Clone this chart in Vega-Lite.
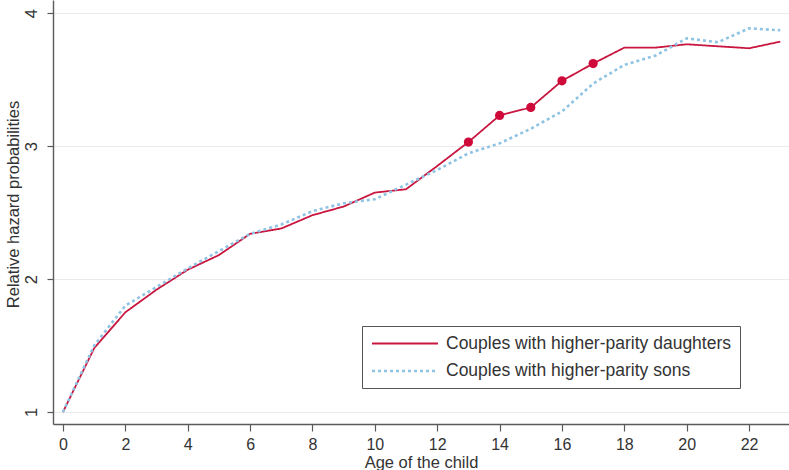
{
  "$schema": "https://vega.github.io/schema/vega-lite/v6.json",
  "autosize": {"type": "none"},
  "width": 736,
  "height": 424,
  "padding": {"left": 53, "top": 0, "right": 0, "bottom": 46},
  "background": "white",
  "config": {
    "view": {"stroke": null},
    "font": "Liberation Sans",
    "axis": {
      "labelFont": "Liberation Sans",
      "titleFont": "Liberation Sans",
      "labelColor": "#333333",
      "titleColor": "#333333",
      "labelFontSize": 16.5,
      "titleFontSize": 16.5,
      "titleFontWeight": "normal",
      "domainColor": "#5a5a5a",
      "domainWidth": 1.4,
      "tickColor": "#5a5a5a",
      "tickWidth": 1.2,
      "tickSize": 6
    }
  },
  "data": {
    "values": [
      {"age": 0, "group": "Couples with higher-parity daughters", "hr": 1.0, "sig": false},
      {"age": 1, "group": "Couples with higher-parity daughters", "hr": 1.48, "sig": false},
      {"age": 2, "group": "Couples with higher-parity daughters", "hr": 1.75, "sig": false},
      {"age": 3, "group": "Couples with higher-parity daughters", "hr": 1.92, "sig": false},
      {"age": 4, "group": "Couples with higher-parity daughters", "hr": 2.07, "sig": false},
      {"age": 5, "group": "Couples with higher-parity daughters", "hr": 2.18, "sig": false},
      {"age": 6, "group": "Couples with higher-parity daughters", "hr": 2.34, "sig": false},
      {"age": 7, "group": "Couples with higher-parity daughters", "hr": 2.38, "sig": false},
      {"age": 8, "group": "Couples with higher-parity daughters", "hr": 2.48, "sig": false},
      {"age": 9, "group": "Couples with higher-parity daughters", "hr": 2.545, "sig": false},
      {"age": 10, "group": "Couples with higher-parity daughters", "hr": 2.65, "sig": false},
      {"age": 11, "group": "Couples with higher-parity daughters", "hr": 2.675, "sig": false},
      {"age": 12, "group": "Couples with higher-parity daughters", "hr": 2.85, "sig": false},
      {"age": 13, "group": "Couples with higher-parity daughters", "hr": 3.03, "sig": true},
      {"age": 14, "group": "Couples with higher-parity daughters", "hr": 3.23, "sig": true},
      {"age": 15, "group": "Couples with higher-parity daughters", "hr": 3.29, "sig": true},
      {"age": 16, "group": "Couples with higher-parity daughters", "hr": 3.49, "sig": true},
      {"age": 17, "group": "Couples with higher-parity daughters", "hr": 3.62, "sig": true},
      {"age": 18, "group": "Couples with higher-parity daughters", "hr": 3.74, "sig": false},
      {"age": 19, "group": "Couples with higher-parity daughters", "hr": 3.74, "sig": false},
      {"age": 20, "group": "Couples with higher-parity daughters", "hr": 3.765, "sig": false},
      {"age": 21, "group": "Couples with higher-parity daughters", "hr": 3.75, "sig": false},
      {"age": 22, "group": "Couples with higher-parity daughters", "hr": 3.735, "sig": false},
      {"age": 23, "group": "Couples with higher-parity daughters", "hr": 3.785, "sig": false},
      {"age": 0, "group": "Couples with higher-parity sons", "hr": 1.0, "sig": false},
      {"age": 1, "group": "Couples with higher-parity sons", "hr": 1.5, "sig": false},
      {"age": 2, "group": "Couples with higher-parity sons", "hr": 1.8, "sig": false},
      {"age": 3, "group": "Couples with higher-parity sons", "hr": 1.94, "sig": false},
      {"age": 4, "group": "Couples with higher-parity sons", "hr": 2.08, "sig": false},
      {"age": 5, "group": "Couples with higher-parity sons", "hr": 2.21, "sig": false},
      {"age": 6, "group": "Couples with higher-parity sons", "hr": 2.34, "sig": false},
      {"age": 7, "group": "Couples with higher-parity sons", "hr": 2.41, "sig": false},
      {"age": 8, "group": "Couples with higher-parity sons", "hr": 2.51, "sig": false},
      {"age": 9, "group": "Couples with higher-parity sons", "hr": 2.57, "sig": false},
      {"age": 10, "group": "Couples with higher-parity sons", "hr": 2.6, "sig": false},
      {"age": 11, "group": "Couples with higher-parity sons", "hr": 2.71, "sig": false},
      {"age": 12, "group": "Couples with higher-parity sons", "hr": 2.82, "sig": false},
      {"age": 13, "group": "Couples with higher-parity sons", "hr": 2.945, "sig": false},
      {"age": 14, "group": "Couples with higher-parity sons", "hr": 3.02, "sig": false},
      {"age": 15, "group": "Couples with higher-parity sons", "hr": 3.13, "sig": false},
      {"age": 16, "group": "Couples with higher-parity sons", "hr": 3.26, "sig": false},
      {"age": 17, "group": "Couples with higher-parity sons", "hr": 3.47, "sig": false},
      {"age": 18, "group": "Couples with higher-parity sons", "hr": 3.61, "sig": false},
      {"age": 19, "group": "Couples with higher-parity sons", "hr": 3.68, "sig": false},
      {"age": 20, "group": "Couples with higher-parity sons", "hr": 3.81, "sig": false},
      {"age": 21, "group": "Couples with higher-parity sons", "hr": 3.78, "sig": false},
      {"age": 22, "group": "Couples with higher-parity sons", "hr": 3.885, "sig": false},
      {"age": 23, "group": "Couples with higher-parity sons", "hr": 3.87, "sig": false}
    ]
  },
  "encoding": {
    "x": {
      "field": "age",
      "type": "quantitative",
      "scale": {"domain": [-0.32, 23.28], "nice": false, "zero": false},
      "axis": {
        "title": "Age of the child",
        "titleFontSize": 16.5,
        "labelFontSize": 16,
        "values": [0, 2, 4, 6, 8, 10, 12, 14, 16, 18, 20, 22],
        "grid": false,
        "tickSize": 7,
        "labelPadding": 5,
        "titleBaseline": "alphabetic",
        "titleY": 43
      }
    },
    "y": {
      "field": "hr",
      "type": "quantitative",
      "scale": {"domain": [0.91, 4.098], "nice": false, "zero": false},
      "axis": {
        "title": "Relative hazard probabilities",
        "values": [1, 2, 3, 4],
        "grid": true,
        "gridColor": "#ebebeb",
        "gridWidth": 1,
        "labelAngle": -90,
        "labelAlign": "center",
        "labelBaseline": "bottom",
        "labelPadding": 8,
        "titleX": -32,
        "titleY": 204
      }
    }
  },
  "layer": [
    {
      "mark": {"type": "line", "interpolate": "linear"},
      "encoding": {
        "color": {
          "field": "group",
          "type": "nominal",
          "scale": {
            "domain": ["Couples with higher-parity daughters", "Couples with higher-parity sons"],
            "range": ["#c8163f", "#8fc3e3"]
          },
          "legend": {
            "title": null,
            "orient": "none",
            "legendX": 309,
            "legendY": 326,
            "direction": "vertical",
            "strokeColor": "#555555",
            "fillColor": "white",
            "padding": 8,
            "rowPadding": 9,
            "symbolType": "M-4,0H4",
            "symbolSize": 272,
            "symbolOffset": 25,
            "symbolStrokeWidth": 2,
            "labelFont": "Liberation Sans",
            "labelFontSize": 17.5,
            "labelColor": "#333333",
            "labelOffset": 31,
            "labelLimit": 400
          }
        },
        "strokeDash": {
          "field": "group",
          "type": "nominal",
          "scale": {
            "domain": ["Couples with higher-parity daughters", "Couples with higher-parity sons"],
            "range": [[1, 0], [3, 3]]
          },
          "legend": null
        },
        "strokeWidth": {
          "field": "group",
          "type": "nominal",
          "scale": {
            "domain": ["Couples with higher-parity daughters", "Couples with higher-parity sons"],
            "range": [1.8, 2.6]
          },
          "legend": null
        }
      }
    },
    {
      "transform": [{"filter": "datum.sig"}],
      "mark": {"type": "point", "filled": true, "color": "#cf0a3a", "size": 85, "opacity": 1}
    }
  ]
}
